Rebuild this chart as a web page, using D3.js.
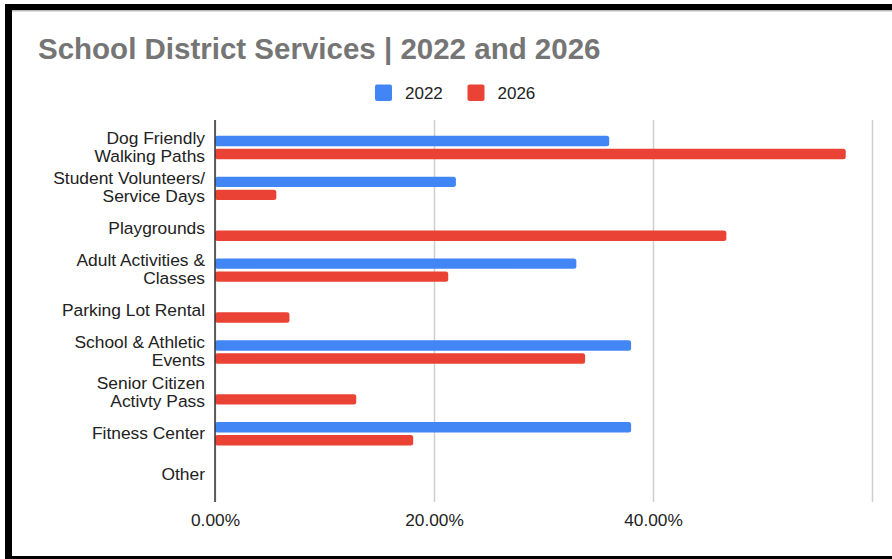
<!DOCTYPE html>
<html>
<head>
<meta charset="utf-8">
<script src="https://cdn.jsdelivr.net/npm/d3@7"></script>
<style>
  html, body { margin: 0; padding: 0; background: #fff; }
  svg { display: block; }
</style>
</head>
<body>
<script>
// Survey categories (line breaks mark wrapped labels)
const categories = [
  "Dog Friendly\nWalking Paths",
  "Student Volunteers/\nService Days",
  "Playgrounds",
  "Adult Activities &\nClasses",
  "Parking Lot Rental",
  "School & Athletic\nEvents",
  "Senior Citizen\nActivty Pass",
  "Fitness Center",
  "Other"
];
const seriesNames = ["2022", "2026"];
const values2022 = [0.36, 0.22, 0, 0.33, 0, 0.38, 0, 0.38, 0];
const values2026 = [0.576, 0.056, 0.467, 0.213, 0.068, 0.338, 0.129, 0.181, 0];
const xTicks = [0, 0.2, 0.4, 0.6];
const xTickLabels = [0, 0.2, 0.4];
const colors = { "2022": "#4285F4", "2026": "#EA4335" };

const W = 892, H = 559;
const svg = d3.select("body").append("svg").attr("width", W).attr("height", H);

// Page frame
svg.append("rect").attr("x", 0).attr("y", 0).attr("width", W).attr("height", H).attr("fill", "#fff");
svg.append("rect").attr("x", 5).attr("y", 10).attr("width", W - 5).attr("height", 1.5).attr("fill", "#bbb");
svg.append("rect").attr("x", 5).attr("y", 4).attr("width", W - 5).attr("height", 6).attr("fill", "#000");
svg.append("rect").attr("x", 5).attr("y", 4).attr("width", 7).attr("height", H - 4).attr("fill", "#000");
svg.append("rect").attr("x", 5).attr("y", 556).attr("width", W - 5).attr("height", 3).attr("fill", "#000");

const font = "'Liberation Sans', Arial, Helvetica, sans-serif";

// Title
svg.append("text")
  .attr("x", 38).attr("y", 58.5)
  .attr("font-family", font)
  .attr("font-weight", "bold")
  .attr("font-size", 29.5)
  .attr("fill", "#757575")
  .text("School District Services | 2022 and 2026");

// Scales
const x = d3.scaleLinear().domain([0, 0.6]).range([215, 872]);
const y = d3.scaleBand().domain(categories).range([127, 495.1]);
const ySub = d3.scaleBand().domain(seriesNames)
  .range([y.bandwidth() / 2 - 11.7, y.bandwidth() / 2 + 11.7])
  .paddingInner(0.2);

// Vertical gridlines
const grid = svg.append("g").attr("transform", `translate(0,${y.range()[1] + 7})`)
  .call(d3.axisBottom(x).tickValues(xTicks).tickSize(-(y.range()[1] - y.range()[0] + 14)).tickFormat(""));
grid.select(".domain").remove();
grid.selectAll(".tick line").attr("stroke", "#cfcfcf").attr("stroke-width", 1.5);

// Tick labels
const xAxis = svg.append("g").attr("transform", `translate(0,${y.range()[1] + 7})`)
  .call(d3.axisBottom(x).tickValues(xTickLabels).tickSize(0).tickPadding(12).tickFormat(d3.format(".2%")));
xAxis.select(".domain").remove();
xAxis.selectAll("text").attr("font-family", font).attr("font-size", 17.3).attr("fill", "#222");

// Bars
const rows = categories.map((c, i) => ({ c, v: { "2022": values2022[i], "2026": values2026[i] } }));
const groups = svg.append("g").selectAll("g").data(rows).join("g")
  .attr("transform", d => `translate(0,${y(d.c)})`);
groups.selectAll("rect")
  .data(d => seriesNames.map(s => ({ s, v: d.v[s] })).filter(e => e.v > 0))
  .join("rect")
  .attr("x", x(0))
  .attr("y", d => ySub(d.s))
  .attr("width", d => x(d.v) - x(0))
  .attr("height", ySub.bandwidth())
  .attr("rx", 2.5)
  .attr("fill", d => colors[d.s]);

// Category axis
const yAxis = svg.append("g").attr("transform", `translate(${x(0)},0)`)
  .call(d3.axisLeft(y).tickSize(0).tickPadding(10).tickFormat(""));
yAxis.select(".domain")
  .attr("d", `M0,${y.range()[0] - 7}V${y.range()[1] + 7}`)
  .attr("stroke", "#333").attr("stroke-width", 1.5);

// Wrapped category labels
const lineH = 18;
yAxis.selectAll(".tick").each(function (d) {
  const lines = d.split("\n");
  const t = d3.select(this).append("text")
    .attr("x", -10).attr("text-anchor", "end")
    .attr("font-family", font).attr("font-size", 17.4).attr("fill", "#222");
  lines.forEach((ln, k) => {
    t.append("tspan").attr("x", -10)
      .attr("y", (k - (lines.length - 1) / 2) * lineH - 1)
      .attr("dy", "0.35em").text(ln);
  });
});

// Legend
const legend = svg.append("g");
const legendX = { "2022": 375, "2026": 467.5 };
seriesNames.forEach(s => {
  legend.append("rect").attr("x", legendX[s]).attr("y", 84.5).attr("width", 17).attr("height", 16.5)
    .attr("rx", 2).attr("fill", colors[s]);
  legend.append("text").attr("x", legendX[s] + 30).attr("y", 98.5)
    .attr("font-family", font).attr("font-size", 17).attr("fill", "#222").text(s);
});
</script>
</body>
</html>
